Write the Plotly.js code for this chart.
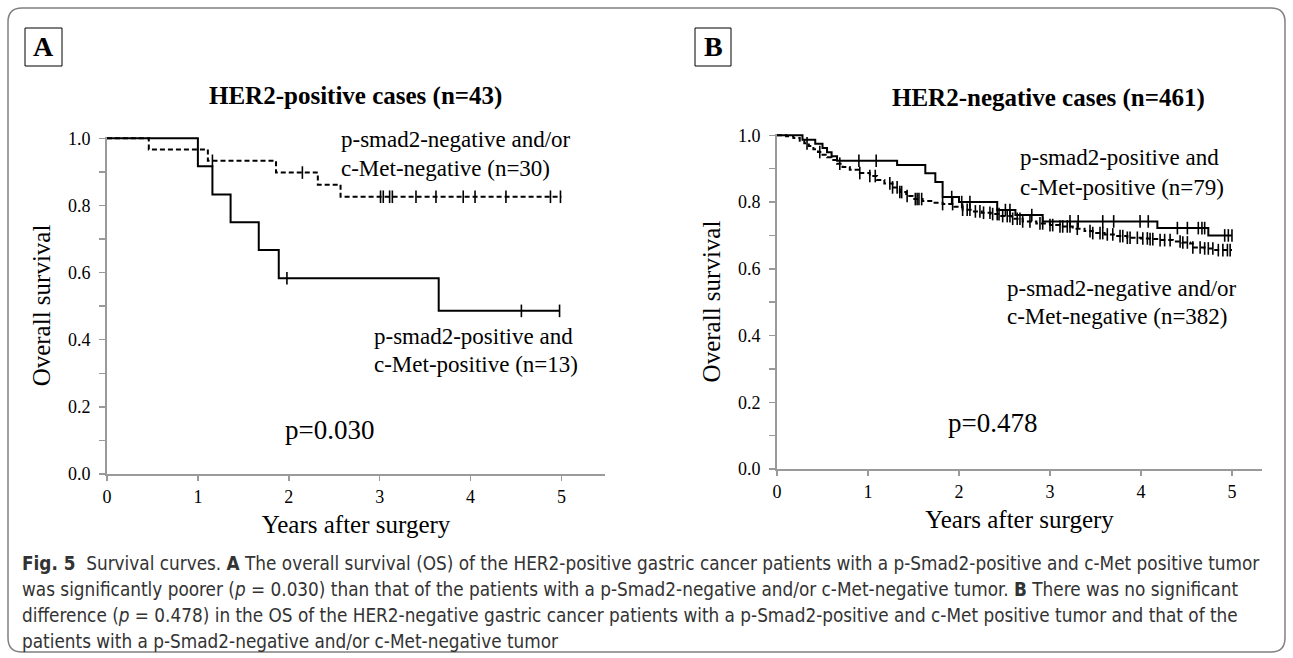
<!DOCTYPE html>
<html>
<head>
<meta charset="utf-8">
<script src="https://cdn.plot.ly/plotly-3.0.1.min.js"></script>
<style>html,body{margin:0;padding:0;background:#fff;}#chart{width:1293px;height:658px;}</style>
</head>
<body>
<div id="chart"></div>
<script>
// ---------- Panel A: HER2-positive cases (n=43) ----------
const aPosTimes = [0, 1.00, 1.16, 1.36, 1.67, 1.89, 3.65, 4.98];
const aPosSurv  = [1.0, 0.917, 0.833, 0.750, 0.667, 0.583, 0.486, 0.486];
const aPosCensor = [1.98, 4.56, 4.98];

const aNegTimes = [0, 0.46, 1.11, 1.86, 2.32, 2.57, 5.00];
const aNegSurv  = [1.0, 0.967, 0.933, 0.898, 0.862, 0.826, 0.826];
const aNegCensor = [1.16, 2.15, 3.01, 3.04, 3.11, 3.14, 3.40, 3.62, 3.92, 4.05, 4.39, 4.88, 4.99];

// ---------- Panel B: HER2-negative cases (n=461) ----------
const bPosTimes = [0, 0.28, 0.42, 0.50, 0.55, 0.60, 0.66, 1.32, 1.63, 1.74, 1.82, 2.00, 2.42, 2.62, 2.92, 4.18, 4.74, 5.00];
const bPosSurv  = [1.0, 0.987, 0.975, 0.962, 0.949, 0.937, 0.924, 0.911, 0.886, 0.860, 0.815, 0.800, 0.776, 0.761, 0.742, 0.722, 0.700, 0.700];
const bPosCensor = [0.90, 1.09, 1.92, 2.03, 2.12, 2.51, 2.56, 2.80, 3.22, 3.31, 3.58, 3.70, 3.99, 4.08, 4.40, 4.51, 4.63, 4.67, 4.70, 4.92, 4.96, 5.00];

const bNegTimes = [0, 0.10, 0.18, 0.25, 0.30, 0.35, 0.40, 0.45, 0.50, 0.55, 0.60, 0.66, 0.72, 0.80, 0.91, 1.02, 1.10, 1.18, 1.27, 1.35, 1.42, 1.49, 1.60, 1.72, 1.82, 1.95, 2.04, 2.15, 2.25, 2.35, 2.45, 2.58, 2.70, 2.85, 3.00, 3.11, 3.25, 3.38, 3.47, 3.60, 3.72, 3.85, 4.00, 4.10, 4.21, 4.35, 4.45, 4.54, 4.57, 4.70, 4.80, 5.00];
const bNegSurv  = [1.0, 0.997, 0.992, 0.984, 0.976, 0.968, 0.958, 0.950, 0.942, 0.934, 0.926, 0.915, 0.905, 0.897, 0.887, 0.878, 0.866, 0.856, 0.844, 0.830, 0.818, 0.809, 0.803, 0.798, 0.794, 0.786, 0.777, 0.772, 0.768, 0.764, 0.758, 0.750, 0.742, 0.736, 0.731, 0.727, 0.720, 0.713, 0.707, 0.703, 0.698, 0.693, 0.691, 0.689, 0.686, 0.682, 0.679, 0.676, 0.664, 0.661, 0.656, 0.656];
const bNegCensor = [0.33, 0.47, 0.69, 0.91, 1.02, 1.08, 1.24, 1.27, 1.32, 1.35, 1.37, 1.43, 1.52, 1.54, 1.56, 1.59, 1.82, 1.93, 2.04, 2.09, 2.12, 2.18, 2.23, 2.27, 2.34, 2.37, 2.42, 2.44, 2.48, 2.53, 2.56, 2.59, 2.64, 2.67, 2.70, 2.78, 2.89, 2.92, 3.00, 3.03, 3.11, 3.14, 3.19, 3.22, 3.30, 3.44, 3.47, 3.55, 3.58, 3.63, 3.69, 3.77, 3.80, 3.85, 3.88, 3.96, 4.02, 4.07, 4.10, 4.13, 4.21, 4.26, 4.32, 4.43, 4.46, 4.51, 4.57, 4.65, 4.70, 4.74, 4.79, 4.85, 4.90, 4.95, 4.98];

// ---------- texts ----------
const titleA = "HER2-positive cases (n=43)";
const titleB = "HER2-negative cases (n=461)";
const xTitle = "Years after surgery";
const yTitle = "Overall survival";
const pA = "p=0.030";
const pB = "p=0.478";
const captionLines = [
  "<b>Fig. 5</b>  Survival curves. <b>A</b> The overall survival (OS) of the HER2-positive gastric cancer patients with a p-Smad2-positive and c-Met positive tumor",
  "was significantly poorer (<i>p</i> = 0.030) than that of the patients with a p-Smad2-negative and/or c-Met-negative tumor. <b>B</b> There was no significant",
  "difference (<i>p</i> = 0.478) in the OS of the HER2-negative gastric cancer patients with a p-Smad2-positive and c-Met positive tumor and that of the",
  "patients with a p-Smad2-negative and/or c-Met-negative tumor"
];

// ---------- helpers ----------
const W = 1293, H = 658;
const px = x => x / W;
const py = y => 1 - y / H;
const SERIF = "Liberation Serif";
function survAt(times, surv, t) {
  let v = surv[0];
  for (let i = 0; i < times.length; i++) if (times[i] <= t) v = surv[i];
  return v;
}
function stepTrace(times, surv, dash, xa, ya) {
  return {x: times, y: surv, type: 'scatter', mode: 'lines', xaxis: xa, yaxis: ya,
    line: {shape: 'hv', color: '#000', width: 2, dash: dash}, hoverinfo: 'skip', showlegend: false};
}
function censorTrace(cens, times, surv, xa, ya, size) {
  return {x: cens, y: cens.map(t => survAt(times, surv, t)), type: 'scatter', mode: 'markers',
    xaxis: xa, yaxis: ya, cliponaxis: false,
    marker: {symbol: 'line-ns', size: size, color: '#000', line: {color: '#000', width: 1.6}},
    hoverinfo: 'skip', showlegend: false};
}

const traces = [
  stepTrace(aNegTimes, aNegSurv, '5px,3px', 'x', 'y'),
  censorTrace(aNegCensor, aNegTimes, aNegSurv, 'x', 'y', 9),
  stepTrace(aPosTimes, aPosSurv, 'solid', 'x', 'y'),
  censorTrace(aPosCensor, aPosTimes, aPosSurv, 'x', 'y', 9),
  stepTrace(bNegTimes, bNegSurv, '5px,3px', 'x2', 'y2'),
  censorTrace(bNegCensor, bNegTimes, bNegSurv, 'x2', 'y2', 9),
  stepTrace(bPosTimes, bPosSurv, 'solid', 'x2', 'y2'),
  censorTrace(bPosCensor, bPosTimes, bPosSurv, 'x2', 'y2', 9)
];

const tickFont = {family: SERIF, size: 18, color: '#000'};
function xAxis(domain, range) {
  return {domain: domain, range: range, showline: true, linecolor: '#9a9a9a', linewidth: 2,
    ticks: 'outside', ticklen: 5, tickwidth: 1.5, tickcolor: '#9a9a9a', tick0: 0, dtick: 1,
    showgrid: false, zeroline: false, tickfont: tickFont,
    title: {text: xTitle, font: {family: SERIF, size: 25, color: '#000'}, standoff: 10}};
}
function yAxis(domain, anchor) {
  return {domain: domain, range: [0, 1.004], anchor: anchor, showline: true, linecolor: '#9a9a9a', linewidth: 2,
    ticks: 'outside', ticklen: 6, tickwidth: 1.5, tickcolor: '#9a9a9a', tick0: 0, dtick: 0.2, tickformat: '.1f',
    ticklabelstandoff: 5,
    minor: {dtick: 0.1, ticks: 'outside', ticklen: 6, tickwidth: 1.5, tickcolor: '#9a9a9a'},
    showgrid: false, zeroline: false, tickfont: tickFont,
    title: {text: yTitle, font: {family: SERIF, size: 25, color: '#000'}, standoff: 10}};
}

const layout = {
  width: W, height: H, margin: {l: 0, r: 0, t: 0, b: 0},
  font: {family: SERIF, size: 18, color: '#000'},
  paper_bgcolor: '#fff', plot_bgcolor: 'rgba(0,0,0,0)', showlegend: false,
  xaxis: Object.assign(xAxis([px(107), px(605)], [0, 5.48]), {anchor: 'y'}),
  yaxis: yAxis([py(474), py(137)], 'x'),
  xaxis2: Object.assign(xAxis([px(777), px(1262)], [0, 5.33]), {anchor: 'y2'}),
  yaxis2: yAxis([py(469), py(134)], 'x2'),
  annotations: [],
  shapes: []
};

function ann(text, x, y, opts) {
  return Object.assign({text: text, x: px(x), y: py(y), xref: 'paper', yref: 'paper', showarrow: false,
    xanchor: 'left', yanchor: 'middle', font: {family: SERIF, size: 23, color: '#000'}}, opts || {});
}
const A = layout.annotations;
A.push(ann('<b>' + titleA + '</b>', 355, 96, {xanchor: 'center', font: {family: SERIF, size: 25, color: '#000'}}));
A.push(ann('<b>' + titleB + '</b>', 1048, 98, {xanchor: 'center', font: {family: SERIF, size: 25, color: '#000'}}));
A.push(ann('<b>A</b>', 43.5, 47, {xanchor: 'center', font: {family: SERIF, size: 28, color: '#000'}}));
A.push(ann('<b>B</b>', 713, 47, {xanchor: 'center', font: {family: SERIF, size: 28, color: '#000'}}));
A.push(ann('p-smad2-negative and/or', 339, 140));
A.push(ann('c-Met-negative (n=30)', 339, 169));
A.push(ann('p-smad2-positive and', 372, 336));
A.push(ann('c-Met-positive (n=13)', 372, 364));
A.push(ann(pA, 283, 430, {font: {family: SERIF, size: 27, color: '#000'}}));
A.push(ann('p-smad2-positive and', 1018, 158));
A.push(ann('c-Met-positive (n=79)', 1018, 187));
A.push(ann('p-smad2-negative and/or', 1005, 288));
A.push(ann('c-Met-negative (n=382)', 1005, 317));
A.push(ann(pB, 946, 423, {font: {family: SERIF, size: 27, color: '#000'}}));
const capY = [563, 589, 615, 641];
captionLines.forEach((t, i) => A.push(ann(t, 20, capY[i],
  {font: {family: "DejaVu Sans Condensed", size: 18.8, color: '#333333'}})));

// panel letter boxes
const S = layout.shapes;
S.push({type: 'rect', xref: 'paper', yref: 'paper', x0: px(25), x1: px(62), y0: py(66), y1: py(28), line: {color: '#000', width: 1}});
S.push({type: 'rect', xref: 'paper', yref: 'paper', x0: px(695), x1: px(731), y0: py(66), y1: py(28), line: {color: '#000', width: 1}});
// rounded outer frame
(function () {
  const l = 8, t = 8, r = 1285, b = 652, rad = 14;
  const P = (x, y) => px(x).toFixed(5) + ',' + py(y).toFixed(5);
  const path = 'M' + P(l, t + rad) + ' Q' + P(l, t) + ' ' + P(l + rad, t) +
    ' L' + P(r - rad, t) + ' Q' + P(r, t) + ' ' + P(r, t + rad) +
    ' L' + P(r, b - rad) + ' Q' + P(r, b) + ' ' + P(r - rad, b) +
    ' L' + P(l + rad, b) + ' Q' + P(l, b) + ' ' + P(l, b - rad) + ' Z';
  S.push({type: 'path', xref: 'paper', yref: 'paper', path: path, line: {color: '#808080', width: 1.5}});
})();

Plotly.newPlot('chart', traces, layout, {staticPlot: true, displayModeBar: false});
</script>
</body>
</html>
